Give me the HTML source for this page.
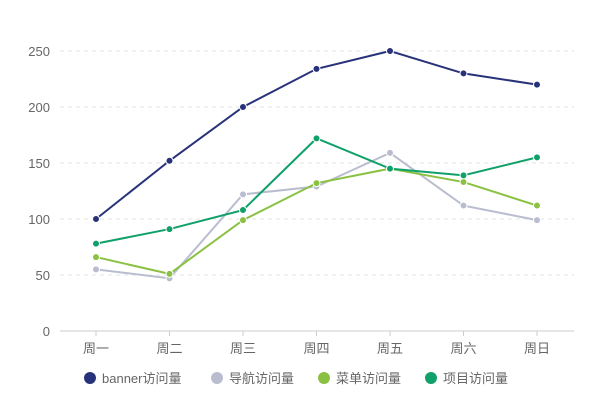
<!DOCTYPE html>
<html><head><meta charset="utf-8"><style>
body{margin:0;background:#fff;}
svg text{font-family:"Liberation Sans","Noto Sans CJK SC",sans-serif;}
</style></head><body>
<svg id="c" width="600" height="410"></svg>
<script>
const categories=["周一","周二","周三","周四","周五","周六","周日"];
const bannerValues=[100,152,200,234,250,230,220];
const navValues=[55,47,122,129,159,112,99];
const menuValues=[66,51,99,132,145,133,112];
const projectValues=[78,91,108,172,145,139,155];
const yTicks=[0,50,100,150,200,250];
const seriesNames=["banner访问量","导航访问量","菜单访问量","项目访问量"];
const colors=["#27327a","#b9bdcf","#8bc143","#10a06a"];
const svg=document.getElementById('c');
const NS='http://www.w3.org/2000/svg';
function y(v){return 331-v*280/250;}
function x(i){return 96+i*73.5;}
function el(t,a,p){const e=document.createElementNS(NS,t);for(const k in a)e.setAttribute(k,a[k]);(p||svg).appendChild(e);return e;}
yTicks.forEach(v=>{
  if(v>0){const g=el('line',{x1:60,x2:574,y1:y(v),y2:y(v),stroke:'#e3e3e3','stroke-dasharray':'4,4'});
  
  }
  const t=el('text',{x:50,y:y(v)+5,'text-anchor':'end','font-size':13,fill:'#666'});
  t.textContent=v;
  
  
});
const ax=el('line',{x1:60,x2:574,y1:331,y2:331,stroke:'#ccc'});


categories.forEach((c,i)=>{
  el('line',{x1:x(i),x2:x(i),y1:331,y2:336,stroke:'#ccc'});
  const t=el('text',{x:x(i),y:353,'text-anchor':'middle','font-size':13,fill:'#666'});
  t.textContent=c;
  
  
});
const all=[bannerValues,navValues,menuValues,projectValues];
all.forEach((vals,s)=>{
  const g=el('g',{});
  
  
  el('polyline',{points:vals.map((v,i)=>x(i)+','+y(v)).join(' '),fill:'none',stroke:colors[s],'stroke-width':2},g);
  vals.forEach((v,i)=>{
    const p=el('circle',{cx:x(i),cy:y(v),r:3.5,fill:colors[s],stroke:'#fff','stroke-width':1},g);
    
    
  });
});
const lx=[90,217,324,431];
seriesNames.forEach((n,s)=>{
  const g=el('g',{});
  
  
  el('circle',{cx:lx[s],cy:378,r:6,fill:colors[s]},g);
  const t=el('text',{x:lx[s]+12,y:383,'font-size':13,fill:'#666'},g);
  t.textContent=n;
});
</script>
</body></html>
